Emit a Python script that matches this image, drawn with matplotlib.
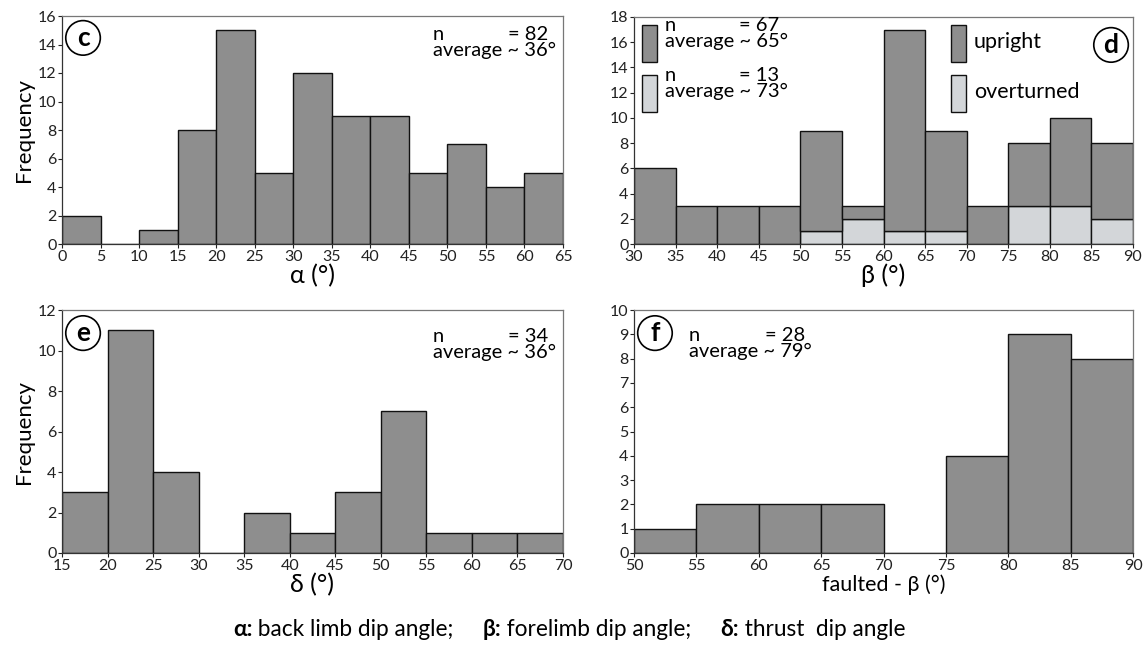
import matplotlib
matplotlib.use("Agg")
import matplotlib.pyplot as plt
from matplotlib.patches import Rectangle
import numpy as np

plt.rcParams['font.family'] = ['Liberation Sans Narrow', 'Lato', 'DejaVu Sans']

# ---- data ----
c_edges = list(range(0, 70, 5))
c_counts = [2, 0, 1, 8, 15, 5, 12, 9, 9, 5, 7, 4, 5]

d_edges = list(range(30, 95, 5))
d_total = [6, 3, 3, 3, 9, 3, 17, 9, 3, 8, 10, 8]
d_overturned = [0, 0, 0, 0, 1, 2, 1, 1, 0, 3, 3, 2]

e_edges = list(range(15, 75, 5))
e_counts = [3, 11, 4, 0, 2, 1, 3, 7, 1, 1, 1]

f_edges = list(range(50, 95, 5))
f_counts = [1, 2, 2, 2, 0, 4, 9, 8]

stats = {'c': (82, 36), 'd_up': (67, 65), 'd_ov': (13, 73), 'e': (34, 36), 'f': (28, 79)}

DARK = '#8e8e8e'
LIGHT = '#d3d6d9'

fig = plt.figure(figsize=(11.45, 6.51), dpi=100)
W, H = 1145, 651

def axes_px(l, r, t, b):
    return fig.add_axes([l / W, 1 - b / H, (r - l) / W, (b - t) / H])

axc = axes_px(62, 563, 16, 244)
axd = axes_px(634, 1133, 17, 244)
axe = axes_px(62, 563, 310, 553)
axf = axes_px(634, 1133, 310, 553)

TICK_FS = 11.5

def style(ax, edges, ymax, ystep):
    ax.set_xlim(edges[0], edges[-1])
    ax.set_ylim(0, ymax)
    ax.set_xticks(edges)
    ax.set_yticks(np.arange(0, ymax + 0.01, ystep))
    ax.tick_params(direction='out', length=3, width=0.8, labelsize=TICK_FS, pad=1,
                   colors='#222222')
    for s in ax.spines.values():
        s.set_linewidth(0.9)
        s.set_color('#333333')
    ax.spines['top'].set_color('#777777')
    ax.spines['right'].set_color('#777777')

def bars(ax, edges, counts, bottom=None, color=DARK):
    lefts = edges[:-1]
    ax.bar(lefts, counts, width=5, align='edge', bottom=bottom, color=color,
           edgecolor='#111111', linewidth=1.0, zorder=2)

def circ_label(ax, x, y, s):
    ax.text(x, y, s, transform=ax.transAxes, fontsize=19, fontweight='bold',
            ha='center', va='center',
            bbox=dict(boxstyle='circle,pad=0.2', fc='white', ec='black', lw=1.2), zorder=5)

STAT_FS = 14.5

def ptext(x, yb, s, ha='left', fs=STAT_FS, **kw):
    return fig.text(x / W, 1 - yb / H, s, ha=ha, va='baseline', fontsize=fs, zorder=6, **kw)

def stat_text(x, yb1, yb2, key, xeq):
    n, avg = stats[key]
    ptext(x, yb1, 'n')
    ptext(x, yb2, 'average ~ %d°' % avg)
    ptext(xeq, yb1, '= %d' % n, ha='right')

LAB_FS = 18

# panel c
bars(axc, c_edges, c_counts)
style(axc, c_edges, 16, 2)
axc.set_xlabel('α (°)', fontsize=LAB_FS, labelpad=0)
axc.set_ylabel('Frequency', fontsize=16, labelpad=3)
circ_label(axc, 0.042, 0.904, 'c')
stat_text(433, 40, 56, 'c', 548)

# panel d
d_upright = [t - o for t, o in zip(d_total, d_overturned)]
bars(axd, d_edges, d_overturned, color=LIGHT)
bars(axd, d_edges, d_upright, bottom=d_overturned, color=DARK)
style(axd, d_edges, 18, 2)
axd.set_xlabel('β (°)', fontsize=LAB_FS, labelpad=0)
circ_label(axd, 0.956, 0.877, 'd')
for (x0, y0, col) in [(0.016, 0.802, DARK), (0.016, 0.581, LIGHT),
                      (0.635, 0.802, DARK), (0.635, 0.581, LIGHT)]:
    axd.add_patch(Rectangle((x0, y0), 0.030, 0.163, transform=axd.transAxes,
                            fc=col, ec='#111111', lw=1.0, zorder=5))
stat_text(665, 31, 47, 'd_up', 779)
stat_text(665, 81, 97, 'd_ov', 779)
ptext(974, 48, 'upright', fs=15.5)
ptext(974, 98, 'overturned', fs=15.5)

# panel e
bars(axe, e_edges, e_counts)
style(axe, e_edges, 12, 2)
axe.set_xlabel('δ (°)', fontsize=LAB_FS, labelpad=0)
axe.set_ylabel('Frequency', fontsize=16, labelpad=3)
circ_label(axe, 0.042, 0.905, 'e')
stat_text(433, 342, 358, 'e', 548)

# panel f
bars(axf, f_edges, f_counts)
style(axf, f_edges, 10, 1)
axf.set_xlabel('faulted - β (°)', fontsize=15.5, labelpad=1)
circ_label(axf, 0.042, 0.905, 'f')
stat_text(689, 341, 357, 'f', 805)

# caption
parts = [('α:', 'bold'), (' back limb dip angle;     ', 'normal'),
         ('β:', 'bold'), (' forelimb dip angle;     ', 'normal'),
         ('δ:', 'bold'), (' thrust  dip angle', 'normal')]
renderer = fig.canvas.get_renderer()
widths = []
texts = []
for s, w in parts:
    t = fig.text(0, 1 - 630 / H, s, fontsize=16.3, fontweight=w, va='center', ha='left')
    texts.append(t)
    widths.append(t.get_window_extent(renderer).width)
total = sum(widths)
x = 569 - total / 2
for t, wpx in zip(texts, widths):
    t.set_x(x / W)
    x += wpx

fig.savefig('out.png', dpi=100)
